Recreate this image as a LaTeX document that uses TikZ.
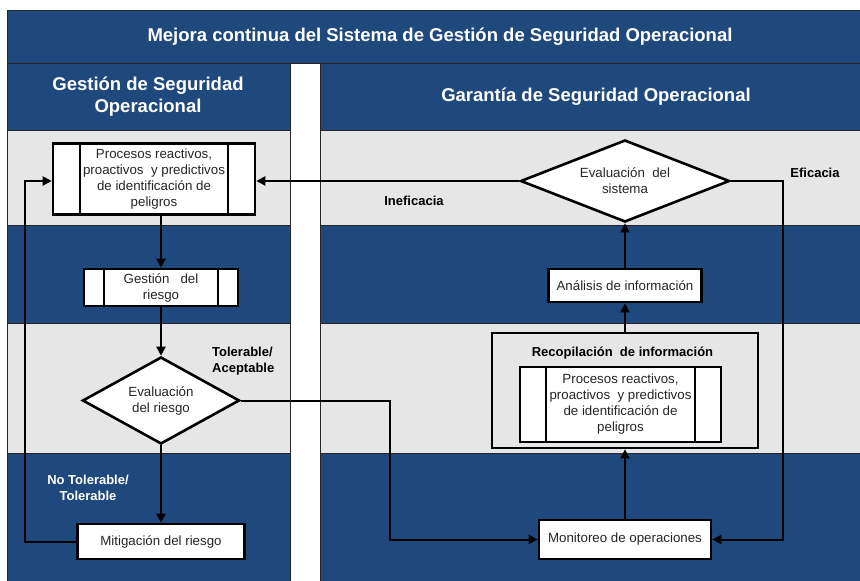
\documentclass[tikz,border=0pt]{standalone}
\usepackage{fontspec}
\setmainfont{Liberation Sans}
\usetikzlibrary{shapes.geometric,arrows.meta,calc}
\definecolor{bandblue}{RGB}{31,73,125}
\definecolor{bandgray}{RGB}{230,230,230}
\definecolor{txt}{RGB}{38,38,38}
\begin{document}
\begin{tikzpicture}[x=1pt,y=-1pt,
  band/.style={draw=black!85, line width=0.8pt},
  blueband/.style={band, fill=bandblue},
  grayband/.style={band, fill=bandgray},
  hdr/.style={text=white, font=\fontsize{18.5}{22}\selectfont\bfseries, align=center, inner sep=0pt},
  boxthick/.style={draw=black, line width=2.6pt, fill=white, inner sep=0pt,
    font=\fontsize{13.3}{16}\selectfont, text=txt, align=center},
  predef/.style={boxthick, path picture={
    \draw[line width=2.6pt] ([xshift=#1]path picture bounding box.north west) -- ([xshift=#1]path picture bounding box.south west)
      ([xshift=-#1]path picture bounding box.north east) -- ([xshift=-#1]path picture bounding box.south east);}},
  dia/.style={boxthick, diamond},
  arr/.style={draw=black, line width=2pt, -{Triangle[length=9pt,width=9pt]}},
  lbl/.style={font=\fontsize{13}{16}\selectfont\bfseries, inner sep=0pt, text=black}
]
\useasboundingbox (0,0) rectangle (860,581);
\fill[white] (0,0) rectangle (860,581);
% header bands
\path[blueband] (7,10) rectangle (863,63);
\path[blueband] (7,63) rectangle (290,130);
\path[blueband] (320,63) rectangle (863,130);
% left column bands
\path[grayband] (7,130) rectangle (290,225);
\path[blueband] (7,225) rectangle (290,323);
\path[grayband] (7,323) rectangle (290,453);
\path[blueband] (7,453) rectangle (290,585);
% right column bands
\path[grayband] (320,130) rectangle (863,225);
\path[blueband] (320,225) rectangle (863,323);
\path[grayband] (320,323) rectangle (863,453);
\path[blueband] (320,453) rectangle (863,585);

% header texts
\node[hdr] (title) at (440,37) {Mejora continua del Sistema de Gestión de Seguridad Operacional};
\node[hdr] (hl) at (148,97) {Gestión de Seguridad\\Operacional};
\node[hdr] (hr) at (596,97) {Garantía de Seguridad Operacional};

% left nodes
\node[predef=27pt, minimum width=202pt, minimum height=71pt] (p1) at (154,179)
  {Procesos reactivos,\\proactivos\ \ y predictivos\\de identificación de\\peligros};
\node[predef=20pt, minimum width=154pt, minimum height=37pt] (gr) at (161,287.5)
  {Gestión\ \ \ del\\riesgo};
\node[dia, aspect=1.8, minimum width=157pt, minimum height=87pt] (er) at (161,400.5)
  {Evaluación\\del riesgo};
\node[boxthick, minimum width=167pt, minimum height=35pt] (mit) at (161,541.5)
  {Mitigación del riesgo};

% right nodes
\node[dia, aspect=2.55, minimum width=209pt, minimum height=82pt] (sis) at (625,181)
  {Evaluación\ \ del\\sistema};
\node[boxthick, minimum width=153pt, minimum height=33pt] (an) at (625,285.5)
  {Análisis de información};
\node[boxthick, fill=bandgray, minimum width=266pt, minimum height=115pt] (rec) at (625,390.5) {};
\node[lbl] (rect) at (622.5,353) {Recopilación\ \ de información};
\node[predef=26pt, minimum width=201pt, minimum height=75pt] (p2) at (620.5,404.5)
  {Procesos reactivos,\\proactivos\ \ y predictivos\\de identificación de\\peligros};
\node[boxthick, minimum width=172pt, minimum height=39pt] (mon) at (625,539.5)
  {Monitoreo\ de\ operaciones};

% labels
\node[lbl] (inef) at (414,201) {Ineficacia};
\node[lbl] (efi) at (815,173) {Eficacia};
\node[lbl, anchor=west, align=left] (tol) at (212,361) {Tolerable/\\Aceptable};
\node[lbl, text=white, align=center] (ntol) at (88,488) {No Tolerable/\\Tolerable};

% connectors
\draw[arr] (gr.north |- p1.south) -- (gr.north);
\draw[arr] (gr.south) -- (er.north);
\draw[arr] (er.south) -- (mit.north);
\coordinate (fb) at (25,181);
\draw[arr] (mit.west) -| (fb) -- (fb -| p1.west);
\coordinate (tc) at (390,400.5);
\draw[arr] (er.east) -- (tc) |- (mon.west);
\draw[arr] (mon.north) -- (rec.south);
\draw[arr] (rec.north) -- (an.south);
\draw[arr] (an.north) -- (sis.south);
\draw[arr] (sis.west) -- (sis.west -| p1.east);
\coordinate (ec) at (783,181);
\draw[arr] (sis.east) -- (ec) |- (mon.east);
\end{tikzpicture}
\end{document}
